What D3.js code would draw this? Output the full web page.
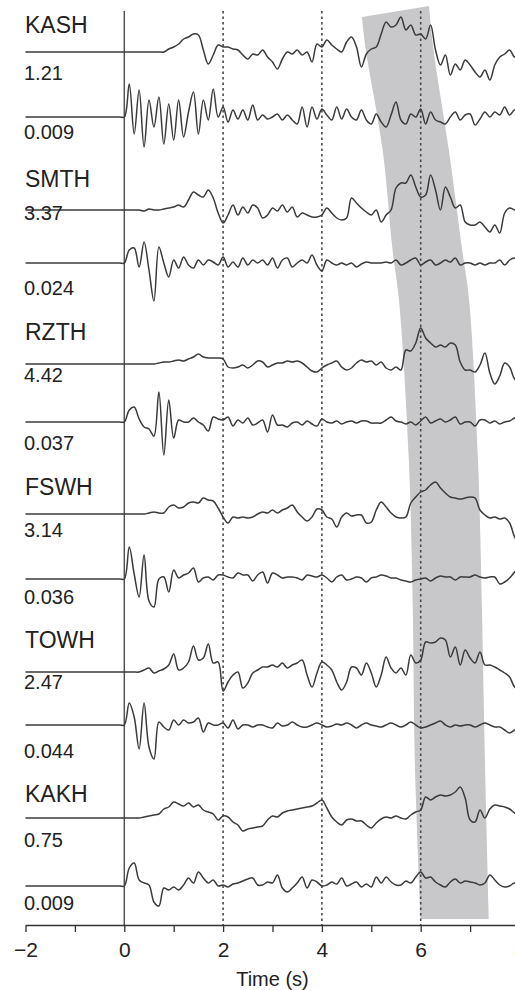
<!DOCTYPE html>
<html>
<head>
<meta charset="utf-8">
<script src="https://cdn.jsdelivr.net/npm/d3@7"></script>
<style>
  body { margin: 0; background: #fff; }
  svg { display: block; font-family: "Liberation Sans", Arial, Helvetica, sans-serif; }
</style>
</head>
<body>
<svg id="chart" width="515" height="990"></svg>
<script>
// stations, top to bottom; each has a long-period (upper) and short-period (lower) record
const stations = ["KASH", "SMTH", "RZTH", "FSWH", "TOWH", "KAKH"];
const ampLabels = ["1.21", "0.009", "3.37", "0.024", "4.42", "0.037",
                   "3.14", "0.036", "2.47", "0.044", "0.75", "0.009"];

// samples every 0.1 s from 0 s to 8 s; flat before the onset
const sampleStart = 0;
const sampleStep = 0.1;
const preEventStart = -2;

const kashUpper = [0,0,0,0,0,0,0,0,0,3, 5,8,13,15,18,17,2,-12,-3,7, 5,5,3,2,-3,-7,-2,-3,2,-5,
  -10,-17,-7,0,-2,2,-3,0,-10,8, 5,12,7,3,0,10,15,5,-15,-2, 3,5,18,30,25,27,35,22,27,17,
  18,13,27,2,-13,-3,-23,-12,-18,-8, -13,-20,-25,-18,-28,-13,-5,-2,2,-5, -3];
const kashLower = [0,33,-17,27,-30,17,-10,20,-27,13, -23,17,-20,5,25,-17,17,-3,28,0,
  10,-5,7,-2,7,-3,12,-3,2,-2, 0,3,-3,2,-3,-7,10,-10,10,-2, 8,2,-3,10,-2,8,0,-3,7,-3,
  -7,3,-5,-10,2,15,-3,-7,3,0, 8,-7,5,-3,-5,-7,0,5,-3,2, 3,-8,-2,5,0,5,2,10,2,7, 2];
const smthUpper = [0,0,0,0,-1,1,0,0,1,2, 3,5,3,10,18,15,13,20,12,-3, -13,-5,5,-5,3,-3,5,2,-8,-5,
  2,-1,5,-2,3,-7,-3,-5,-7,-7, -5,2,-3,-8,-10,-8,12,7,2,-2, -5,0,-12,-5,0,22,27,27,35,23,
  13,15,35,20,0,23,13,2,5,-12, -15,-15,-12,-17,-22,-15,-23,-3,2,0, 0];
const smthLower = [0,13,15,-4,21,-7,-38,16,0,-14, 3,-5,6,-2,-5,3,-2,3,1,-2, 6,-4,1,-4,5,-2,3,0,3,-2,
  5,-5,3,5,-4,0,3,0,8,-2, -8,3,0,-2,0,-2,0,-4,-1,1, 0,0,0,1,0,3,-2,0,3,5,
  -2,1,3,-2,0,3,1,5,-2,0, 0,-2,0,-2,0,0,3,-2,3,5, 1];
const rzthUpper = [0,0,0,0,0,0,0,1,2,2, 3,4,3,5,7,10,7,6,6,6, 5,-3,-4,-3,-1,-4,-1,3,2,-3,
  -1,1,1,3,2,3,1,-3,-7,-8, -4,-1,1,3,-3,-6,-4,1,4,2, 3,-1,2,-4,-6,-3,-6,14,13,21,
  36,26,21,17,19,17,21,19,2,-6, -6,-8,-1,11,-9,-20,-12,1,-3,-15, -18];
const rzthLower = [0,12,15,3,-5,-7,-14,30,-33,22, -16,2,0,0,4,0,-3,-9,5,3, 2,5,-4,2,-1,4,-3,-1,2,-10,
  7,-3,-3,-5,-1,0,-3,1,-2,-4, 3,0,-1,1,-2,0,1,-1,1,1, -1,-1,-1,2,5,1,0,-2,0,-3,
  1,5,-1,1,3,0,2,5,-2,0, 0,-4,2,2,-1,1,-2,0,1,4, 5];
const fswhUpper = [0,0,0,0,0,1,2,1,1,7, 9,6,7,11,12,11,16,14,13,6, -3,-9,-3,-4,-3,-4,-3,0,2,1,
  4,1,4,6,9,2,-3,-7,-3,5, 4,-3,-5,-13,-3,1,-2,-1,-1,-9, -8,4,12,7,1,-3,-4,-3,11,17,
  22,24,29,32,26,21,17,16,15,16, 17,16,4,-1,-4,-3,-5,-4,-9,-23, -31];
const fswhLower = [0,32,5,-18,24,-22,-28,0,2,-13, 9,1,4,6,11,-3,1,2,-1,4, 4,2,1,6,4,4,-2,4,7,-4,
  6,4,1,2,2,1,-1,4,3,2, 4,1,-3,2,4,-1,0,2,1,-3, 1,2,4,3,1,1,-1,-2,-3,-1,
  0,1,-2,1,3,2,2,-1,2,2, 2,4,2,1,2,2,-5,-3,1,7, 12];
const towhUpper = [0,0,0,0,2,4,-1,1,3,7, 18,2,4,10,26,12,14,28,9,10, -19,-10,-3,0,-16,-11,-1,2,5,5,
  7,5,9,4,7,9,12,-3,-15,-1, 10,7,2,-10,-18,-10,5,4,-3,9, -1,-15,-3,15,4,-1,4,-3,17,9,
  12,30,29,30,34,32,15,25,7,22, 14,9,20,7,7,5,2,-1,-5,-15, -18];
const towhLower = [0,22,8,-24,22,-22,-34,3,-2,-5, 5,0,5,2,3,7,-7,2,0,0, 2,-3,5,-4,0,0,-2,0,0,-2,
  -3,2,-1,0,3,0,-2,-2,0,2, 0,-2,-1,1,0,2,0,-3,0,2, 0,-1,-2,0,2,0,-2,0,3,0,
  -3,-2,0,2,4,0,-2,0,-1,0, 0,-2,0,2,0,-2,-2,-5,-8,-5, -3];
const kakhUpper = [0,0,0,0,1,2,3,4,9,11, 16,14,12,15,11,13,8,6,4,-2, 2,1,-4,-7,-13,-11,-10,-9,-8,-2,
  2,1,5,7,8,9,10,11,12,15, 18,10,1,-4,-7,-2,-1,-3,-3,-7, -10,-5,-1,1,0,2,0,-1,3,6,
  8,21,18,21,23,22,23,26,31,20, -2,-4,8,0,9,13,12,11,9,5, 3];
const kakhLower = [0,18,23,6,3,1,-16,-20,-2,-4, -1,-4,1,8,3,14,8,3,6,0, 1,-1,2,3,5,7,8,1,1,4,
  3,11,-2,-6,-2,3,9,-2,6,4, 0,1,4,2,8,0,2,4,-1,2, -1,9,3,9,4,1,1,5,3,9,
  14,8,9,4,1,-1,4,7,3,5, 4,3,1,3,11,6,1,-1,0,3, -4];

const traceValues = [kashUpper, kashLower, smthUpper, smthLower, rzthUpper, rzthLower,
                     fswhUpper, fswhLower, towhUpper, towhLower, kakhUpper, kakhLower];

// arrival window (shaded): edge times at depths down the record section
const bandLeft = [{y: 17, t: 4.81}, {y: 50, t: 4.89}, {y: 150, t: 5.23}, {y: 250, t: 5.43},
                  {y: 300, t: 5.56}, {y: 460, t: 5.76}, {y: 610, t: 5.84}, {y: 760, t: 5.88}, {y: 919, t: 6.0}];
const bandRight = [{y: 6, t: 6.17}, {y: 50, t: 6.26}, {y: 150, t: 6.57}, {y: 250, t: 6.84},
                   {y: 300, t: 6.98}, {y: 460, t: 7.16}, {y: 610, t: 7.24}, {y: 760, t: 7.30}, {y: 919, t: 7.38}];

const onsetTime = 0;
const markerTimes = [2, 4, 6];
const timeTicks = [-2, -1, 0, 1, 2, 3, 4, 5, 6, 7, 8];

// layout (px)
const baselines = [52, 117, 210, 263, 364, 422, 514, 579, 672, 725, 818, 886];
const nameY = [33, 187, 340, 495, 648, 802];
const ampY = [80, 139, 220, 295, 382, 450, 537, 604, 689, 758, 847, 910];
const axisY = 925;
const linesTop = 11;

const svg = d3.select("#chart");

const x = d3.scaleLinear().domain([-2, 8]).range([25.5, 519.5]);
const depth = d3.scaleLinear().domain([0, 990]).range([0, 990]);
const amp = d3.scaleLinear().domain([-1, 1]).range([1, -1]);

// shaded window
const edge = d3.line().x(d => x(d.t)).y(d => depth(d.y)).curve(d3.curveCatmullRom);
const leftD = edge(bandLeft);
const rightD = edge(bandRight.slice().reverse());
svg.append("path")
  .attr("d", leftD + "L" + rightD.slice(1) + "Z")
  .attr("fill", "#c8c8cb");

// onset and reference lines
svg.append("line")
  .attr("x1", x(onsetTime)).attr("x2", x(onsetTime))
  .attr("y1", linesTop).attr("y2", axisY)
  .attr("stroke", "#555").attr("stroke-width", 1.5);

svg.selectAll(".marker")
  .data(markerTimes)
  .enter()
  .append("line")
  .attr("class", "marker")
  .attr("x1", d => x(d)).attr("x2", d => x(d))
  .attr("y1", linesTop).attr("y2", axisY)
  .attr("stroke", "#4a4a4a").attr("stroke-width", 1.6)
  .attr("stroke-dasharray", "2.5,3");

// traces
const line = d3.line()
  .x(d => x(d.t))
  .y(d => amp(d.v))
  .curve(d3.curveCatmullRom.alpha(0.5));
traceValues.forEach((vals, i) => {
  const pts = [{t: preEventStart, v: 0}, {t: sampleStart - sampleStep, v: 0}]
    .concat(vals.map((v, k) => ({t: sampleStart + k * sampleStep, v: v})));
  svg.append("g")
    .attr("transform", `translate(0,${baselines[i]})`)
    .append("path")
    .datum(pts)
    .attr("d", line)
    .attr("fill", "none")
    .attr("stroke", "#3a3a3a")
    .attr("stroke-width", 1.5)
    .attr("stroke-linejoin", "round");
});

// labels
svg.selectAll(".station")
  .data(stations)
  .enter()
  .append("text")
  .attr("class", "station")
  .attr("x", 25)
  .attr("y", (d, i) => nameY[i])
  .attr("font-size", 23)
  .attr("fill", "#222")
  .text(d => d);

svg.selectAll(".amp")
  .data(ampLabels)
  .enter()
  .append("text")
  .attr("class", "amp")
  .attr("x", 24)
  .attr("y", (d, i) => ampY[i])
  .attr("font-size", 20)
  .attr("fill", "#222")
  .text(d => d);

// time axis
const axis = svg.append("g")
  .attr("transform", `translate(0,${axisY})`)
  .call(d3.axisBottom(x)
    .tickValues(timeTicks)
    .tickSize(7)
    .tickSizeOuter(0)
    .tickPadding(10)
    .tickFormat(d => (d % 2 === 0 ? d3.format("d")(d) : "")));
axis.select(".domain").attr("stroke", "#333").attr("stroke-width", 1.6);
axis.selectAll(".tick line").attr("stroke", "#333").attr("stroke-width", 1.3);
axis.selectAll(".tick text")
  .attr("font-size", 21)
  .attr("font-family", "'Liberation Sans', Arial, sans-serif")
  .attr("fill", "#222");

svg.append("text")
  .attr("x", x(3))
  .attr("y", 986)
  .attr("text-anchor", "middle")
  .attr("font-size", 20)
  .attr("fill", "#222")
  .text("Time (s)");
</script>
</body>
</html>
